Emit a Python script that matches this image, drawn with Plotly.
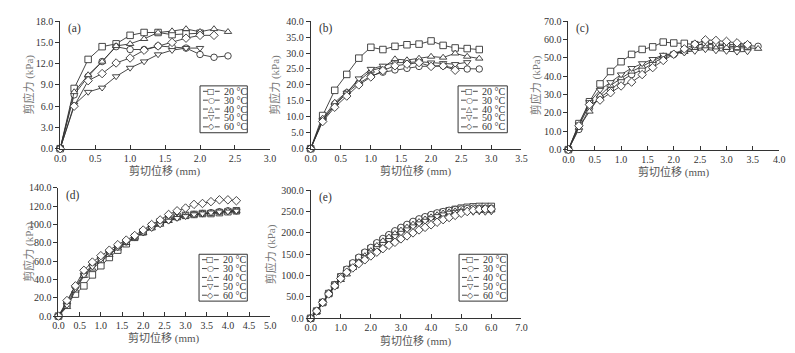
import plotly.graph_objects as go

W, H = 795, 353

# shear displacement (mm), readings every 0.2 mm
disp = [0.0, 0.2, 0.4, 0.6, 0.8, 1.0, 1.2, 1.4, 1.6, 1.8, 2.0, 2.2, 2.4, 2.6, 2.8, 3.0,
        3.2, 3.4, 3.6, 3.8, 4.0, 4.2, 4.4, 4.6, 4.8, 5.0, 5.2, 5.4, 5.6, 5.8, 6.0]

temps = ["20 °C", "30 °C", "40 °C", "50 °C", "60 °C"]

# (a)
a20 = [0, 8.5, 12.6, 14.4, 14.8, 16.0, 16.4, 16.4, 16.1, 16.2, 16.3]
a30 = [0, 7.6, 10.2, 12.3, 14.4, 14.0, 14.0, 14.5, 14.4, 14.2, 13.3, 12.9, 13.1]
a40 = [0, 8.0, 10.4, 12.3, 14.5, 14.8, 15.5, 16.4, 16.6, 16.9, 16.5, 16.9, 16.5]
a50 = [0, 6.2, 8.0, 8.6, 10.2, 11.4, 12.3, 13.3, 13.9, 14.2, 14.2]
a60 = [0, 6.0, 9.6, 10.6, 12.1, 12.8, 13.9, 14.5, 15.0, 15.6, 16.0, 16.0]

# (b)
b20 = [0, 10.4, 18.3, 23.3, 28.4, 31.8, 31.1, 32.1, 32.6, 32.8, 33.8, 32.4, 31.6, 31.4, 31.1]
b30 = [0, 9.0, 14.0, 17.5, 20.5, 22.8, 24.0, 24.7, 25.2, 25.8, 26.0, 26.0, 25.2, 25.0, 25.0]
b40 = [0, 9.5, 14.5, 17.8, 21.0, 24.5, 25.5, 28.1, 27.8, 28.3, 28.9, 28.6, 29.9, 28.9, 28.3]
b50 = [0, 9.0, 13.5, 17.5, 22.0, 25.0, 26.0, 27.0, 27.0, 27.3, 27.0, 26.8, 26.5, 27.1]
b60 = [0, 8.5, 13.0, 16.5, 20.0, 22.5, 24.5, 26.0, 26.5, 27.0, 25.8, 26.0, 24.6]

# (c)
c20 = [0, 14.2, 26.1, 35.8, 42.6, 47.9, 51.9, 54.6, 56.0, 58.6, 58.1, 57.9, 57.2, 57.5,
       57.0, 56.5, 56.0, 56.5]
c30 = [0, 11.0, 22.5, 28.5, 32.3, 37.5, 40.9, 43.5, 47.0, 50.4, 51.8, 53.7, 56.5, 58.0,
       57.7, 57.2, 57.2, 56.7, 56.3]
c40 = [0, 12.0, 20.8, 29.5, 35.0, 39.0, 42.6, 45.3, 48.4, 51.0, 52.3, 53.3, 55.0, 55.6,
       55.2, 55.5, 55.3, 55.6, 55.0]
c50 = [0, 13.7, 25.8, 32.5, 36.7, 40.9, 44.4, 47.0, 49.3, 51.6, 52.3, 52.8, 53.7, 54.6,
       54.0, 53.7, 53.3, 53.5]
c60 = [0, 13.0, 24.5, 27.0, 31.0, 34.7, 36.8, 40.9, 44.7, 48.6, 52.0, 54.9, 57.5, 59.8,
       59.5, 59.0, 58.2, 57.2]

# (d)
d20 = [0, 13, 24, 33, 45, 55, 64, 72, 79, 86, 92, 98, 103, 107, 109, 110, 111, 112, 112, 113, 114, 115]
d30 = [0, 15, 32, 46, 56, 63, 70, 76, 81, 86, 92, 97, 101, 105, 108, 110, 111, 112, 113, 114, 115, 115]
d40 = [0, 10, 28, 44, 52, 60, 67, 74, 80, 86, 91, 96, 100, 104, 107, 109, 111, 112, 112, 114, 115, 115]
d50 = [0, 12, 30, 45, 54, 62, 69, 75, 81, 86, 91, 96, 100, 104, 107, 109, 111, 112, 113, 114, 114, 115]
d60 = [0, 17, 33, 50, 59, 66, 72, 78, 83, 88, 94, 100, 105, 111, 115, 118, 122, 123, 125, 127, 127, 126]

# (e)
e20 = [0, 17, 37, 58, 78, 97, 113, 127, 140, 152, 163, 173, 182, 191, 200, 208, 215, 222,
       228, 234, 239, 244, 248, 252, 255, 258, 260, 261, 262, 262, 262]
e30 = [0, 17, 38, 59, 79, 98, 115, 130, 143, 155, 166, 177, 187, 196, 205, 213, 220, 227,
       233, 238, 243, 247, 250, 253, 255, 256, 257, 258, 258, 258, 258]
e40 = [0, 15, 35, 56, 75, 90, 103, 118, 132, 146, 158, 170, 181, 190, 198, 206, 213, 220,
       226, 232, 237, 242, 246, 249, 251, 252, 253, 253, 252, 253, 253]
e50 = [0, 16, 36, 57, 77, 93, 108, 120, 132, 143, 154, 164, 174, 183, 192, 200, 208, 215,
       222, 228, 234, 239, 243, 247, 249, 250, 250, 249, 250, 249, 250]
e60 = [0, 17, 37, 57, 76, 93, 108, 118, 128, 137, 146, 155, 163, 171, 178, 186, 193, 200,
       207, 213, 219, 225, 231, 236, 241, 246, 250, 253, 255, 256, 256]

symbols = ["square", "circle", "triangle-up", "triangle-down", "diamond"]
glyphs = ["□", "○", "△", "▽", "◇"]

# panel boxes in pixels: left, right, top, bottom; axis ranges and steps
panels = [
    dict(tag="(a)", series=[a20, a30, a40, a50, a60], px=(55, 268, 15.7, 147.7),
         xmax=3.0, xstep=0.5, ymax=18, ystep=3, ytitle_x=23, legend=(197, 245, 82.7)),
    dict(tag="(b)", series=[b20, b30, b40, b50, b60], px=(309.3, 523.3, 15.7, 147.7),
         xmax=3.5, xstep=0.5, ymax=40, ystep=5, ytitle_x=273, legend=(459, 509, 82.7)),
    dict(tag="(c)", series=[c20, c30, c40, c50, c60], px=(571, 785, 15.7, 148.7),
         xmax=4.0, xstep=0.5, ymax=70, ystep=10, ytitle_x=539, legend=None),
    dict(tag="(d)", series=[d20, d30, d40, d50, d60], px=(53.3, 268.3, 188.3, 321),
         xmax=5.0, xstep=0.5, ymax=140, ystep=20, ytitle_x=23, legend=(196, 245, 257)),
    dict(tag="(e)", series=[e20, e30, e40, e50, e60], px=(309.3, 523.3, 190.7, 323.3),
         xmax=7.0, xstep=1.0, ymax=300, ystep=50, ytitle_x=269, legend=(460, 509, 257)),
]

INK = "#333333"
SERIF = "Liberation Serif, Times New Roman, Noto Sans CJK SC, serif"


def fx(p):
    return p / W


def fy(p):
    return 1 - p / H


fig = go.Figure()
annotations = []
shapes = []
layout = {}

for i, p in enumerate(panels):
    n = "" if i == 0 else str(i + 1)
    left, right, top, bottom = p["px"]

    for k, vals in enumerate(p["series"]):
        fig.add_trace(go.Scatter(
            x=disp[:len(vals)], y=vals, mode="lines+markers",
            name=temps[k], showlegend=False, cliponaxis=False,
            xaxis="x" + n, yaxis="y" + n,
            line=dict(color=INK, width=0.9),
            marker=dict(symbol=symbols[k], size=6.5, color="white",
                        line=dict(color=INK, width=0.9)),
        ))

    common = dict(showline=True, linecolor=INK, linewidth=1, showgrid=False,
                  zeroline=False, ticklen=4, tickcolor=INK, tickwidth=1,
                  tickformat=".1f", tickfont=dict(family=SERIF, size=10, color=INK))
    layout["xaxis" + n] = dict(common, domain=[fx(left), fx(right)], anchor="y" + n,
                               range=[0, p["xmax"]], dtick=p["xstep"], tick0=0,
                               ticks="inside")
    layout["yaxis" + n] = dict(common, domain=[fy(bottom), fy(top)], anchor="x" + n,
                               range=[0, p["ymax"]], dtick=p["ystep"], tick0=0,
                               ticks="outside")

    # panel tag
    annotations.append(dict(text=p["tag"], xref="paper", yref="paper",
                            x=fx(left + 6), y=fy(top + 8), xanchor="left", yanchor="middle",
                            showarrow=False, font=dict(family=SERIF, size=11.5, color=INK)))
    # axis titles
    annotations.append(dict(text="剪切位移 (mm)", xref="paper", yref="paper",
                            x=fx((left + right) / 2), y=fy(bottom + 23), xanchor="center",
                            yanchor="middle", showarrow=False,
                            font=dict(family=SERIF, size=11, color="#555555")))
    annotations.append(dict(text="剪应力 (kPa)", xref="paper", yref="paper", textangle=-90,
                            x=fx(p["ytitle_x"]), y=fy((top + bottom) / 2), xanchor="center",
                            yanchor="middle", showarrow=False,
                            font=dict(family=SERIF, size=11, color="#777777")))

    # boxed legend drawn by hand so the rows stay tight
    if p["legend"]:
        lx0, lx1, ly0 = p["legend"]
        shapes.append(dict(type="rect", xref="paper", yref="paper",
                           x0=fx(lx0), x1=fx(lx1), y0=fy(ly0), y1=fy(ly0 + 48.5),
                           line=dict(color=INK, width=1), fillcolor="white", layer="above"))
        for k in range(5):
            ry = ly0 + 5.6 + 9.2 * k
            for sx0, sx1 in [(lx0 + 3, lx0 + 8), (lx0 + 15, lx0 + 20)]:
                shapes.append(dict(type="line", xref="paper", yref="paper",
                                   x0=fx(sx0), x1=fx(sx1), y0=fy(ry), y1=fy(ry),
                                   line=dict(color=INK, width=0.9), layer="above"))
            annotations.append(dict(text=glyphs[k], xref="paper", yref="paper",
                                    x=fx(lx0 + 11.5), y=fy(ry), xanchor="center",
                                    yanchor="middle", showarrow=False,
                                    font=dict(family="DejaVu Sans", size=8, color=INK)))
            annotations.append(dict(text=temps[k], xref="paper", yref="paper",
                                    x=fx(lx0 + 22), y=fy(ry), xanchor="left",
                                    yanchor="middle", showarrow=False,
                                    font=dict(family=SERIF, size=10, color=INK)))

fig.update_layout(
    width=W, height=H,
    margin=dict(l=0, r=0, t=0, b=0),
    paper_bgcolor="white", plot_bgcolor="white",
    showlegend=False,
    annotations=annotations,
    shapes=shapes,
    **layout,
)

# page body margin would push the fixed-size figure off the window
fig.write_html("out.html", config={"displayModeBar": False},
               post_script="document.body.style.margin='0';")
